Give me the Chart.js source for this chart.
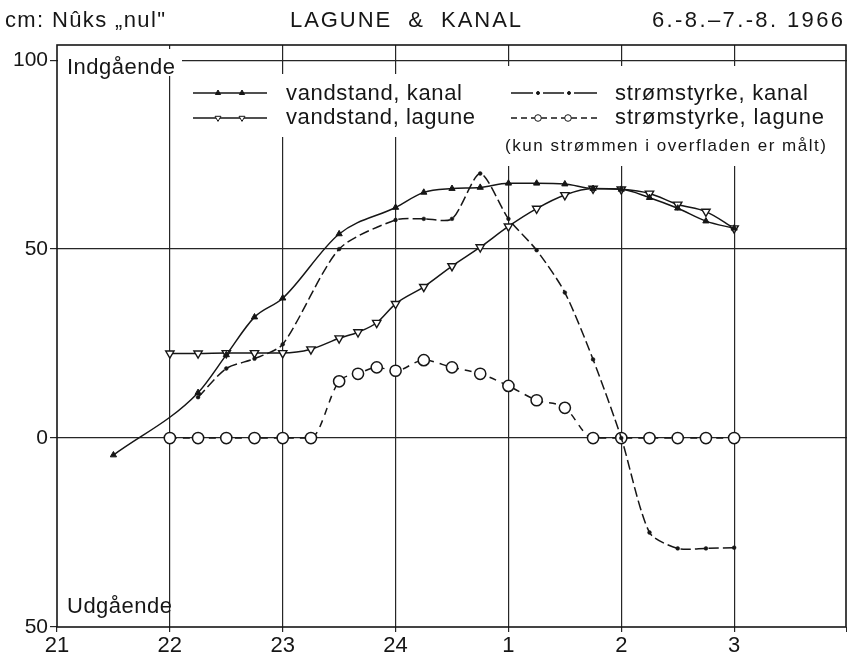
<!DOCTYPE html>
<html>
<head>
<meta charset="utf-8">
<script src="https://cdn.jsdelivr.net/npm/chart.js@4.4.0/dist/chart.umd.min.js"></script>
<style>
html,body{margin:0;padding:0;background:#fff;}
#wrap{position:relative;width:847px;height:652px;}
canvas{display:block;}
</style>
</head>
<body>
<div id="wrap"><canvas id="c" width="847" height="652"></canvas></div>
<script>
// ---- tick labels ----
const xTickValues = [21, 22, 23, 24, 25, 26, 27, 28];
const xTickLabels = ['21', '22', '23', '24', '1', '2', '3', ''];
const yTickValues = [-50, 0, 50, 100];
const yTickLabels = ['50', '0', '50', '100'];

// ---- series (x = hour of day, 25 = 01, 26 = 02, 27 = 03) ----
const kanalLevelTime = [21.5, 22.25, 22.5, 22.75, 23, 23.5, 24, 24.25, 24.5, 24.75, 25, 25.25, 25.5, 25.75, 26, 26.25, 26.5, 26.75, 27];
const kanalLevel     = [-4.5, 12, 22, 32, 37, 54, 61, 65, 66, 66.3, 67.4, 67.4, 67.2, 66, 65.8, 63.6, 60.8, 57.4, 55.5];

const laguneLevelTime = [22, 22.25, 22.5, 22.75, 23, 23.25, 23.5, 23.667, 23.833, 24, 24.25, 24.5, 24.75, 25, 25.25, 25.5, 25.75, 26, 26.25, 26.5, 26.75, 27];
const laguneLevel     = [22.4, 22.4, 22.5, 22.5, 22.5, 23.5, 26.4, 28, 30.5, 35.5, 40, 45.5, 50.5, 56, 60.7, 64.3, 66, 65.8, 64.7, 61.8, 59.9, 55.5];

const kanalCurrentTime = [22.25, 22.5, 22.75, 23, 23.5, 24, 24.25, 24.5, 24.75, 25, 25.25, 25.5, 25.75, 26, 26.25, 26.5, 26.75, 27];
const kanalCurrent     = [10.8, 18.4, 21, 24.8, 50, 57.7, 58, 58, 70, 58, 49.7, 38.5, 20.8, 0, -25, -29.2, -29.2, -29];

const laguneCurrentTime = [22, 22.25, 22.5, 22.75, 23, 23.25, 23.5, 23.667, 23.833, 24, 24.25, 24.5, 24.75, 25, 25.25, 25.5, 25.75, 26, 26.25, 26.5, 26.75, 27];
const laguneCurrent     = [0, 0, 0, 0, 0, 0, 15, 17, 18.7, 17.8, 20.6, 18.7, 17, 13.8, 10, 8, 0, 0, 0, 0, 0, 0];

// ---- texts ----
const headerLeft = 'cm: Nûks „nul"';
const headerMid = 'LAGUNE  &  KANAL';
const headerRight = '6.-8.–7.-8. 1966';
const inLabel = 'Indgående';
const outLabel = 'Udgående';
const seriesNames = ['vandstand, kanal', 'vandstand, lagune', 'strømstyrke, kanal', 'strømstyrke, lagune'];
const noteText = '(kun strømmen i overfladen er målt)';

const INK = '#161616';
const GRID = '#262626';
const FONT = "'Liberation Sans', Arial, sans-serif";
const NARROW = "'Liberation Sans Narrow', 'Liberation Sans', Arial, sans-serif";

function pts(xs, ys) { return xs.map((x, i) => ({ x: x, y: ys[i] })); }

const datasets = [
  {
    label: seriesNames[0], data: pts(kanalLevelTime, kanalLevel),
    borderColor: INK, borderWidth: 1.5, cubicInterpolationMode: 'monotone',
    pointStyle: 'triangle', pointRadius: 3.6, pointBackgroundColor: INK, pointBorderColor: INK, pointBorderWidth: 1,
    order: 2, legendMarks: [218, 242], legendRow: 0, legendCol: 0, legendRadius: 3, legendDash: 'solid'
  },
  {
    label: seriesNames[1], data: pts(laguneLevelTime, laguneLevel),
    borderColor: INK, borderWidth: 1.5, cubicInterpolationMode: 'monotone',
    pointStyle: 'triangle', pointRotation: 180, pointRadius: 4.8, pointBackgroundColor: '#ffffff', pointBorderColor: INK, pointBorderWidth: 1.4,
    order: 3, legendMarks: [218, 242], legendRow: 1, legendCol: 0, legendRadius: 3.4, legendDash: 'solid'
  },
  {
    label: seriesNames[2], data: pts(kanalCurrentTime, kanalCurrent),
    borderColor: INK, borderWidth: 1.5, borderDash: [10, 4], tension: 0.25,
    pointStyle: 'circle', pointRadius: 1.9, pointBackgroundColor: INK, pointBorderColor: INK, pointBorderWidth: 0.5,
    order: 0, legendMarks: [538, 569], legendRow: 0, legendCol: 1, legendRadius: 1.5, legendDash: 'gapped'
  },
  {
    label: seriesNames[3], data: pts(laguneCurrentTime, laguneCurrent),
    borderColor: INK, borderWidth: 1.5, borderDash: [7, 6], cubicInterpolationMode: 'monotone',
    pointStyle: 'circle', pointRadius: 5.6, pointBackgroundColor: '#ffffff', pointBorderColor: INK, pointBorderWidth: 1.5,
    order: 1, legendMarks: [538, 568], legendRow: 1, legendCol: 1, legendRadius: 3.3, legendDash: 'dashed'
  }
];

function fitText(ctx, txt, x0, x1, y, font) {
  ctx.font = font;
  ctx.letterSpacing = '0px';
  const w = ctx.measureText(txt).width;
  const ls = (x1 - x0 - w) / Math.max(1, txt.length - 1);
  ctx.letterSpacing = ls.toFixed(2) + 'px';
  ctx.textAlign = 'left';
  ctx.textBaseline = 'alphabetic';
  ctx.fillText(txt, x0, y);
  ctx.letterSpacing = '0px';
}

const deco = {
  id: 'deco',
  beforeDatasetsDraw(chart) {
    const ctx = chart.ctx, a = chart.chartArea;
    ctx.save();
    // white boxes behind the labels and the legend (they interrupt the grid)
    ctx.fillStyle = '#ffffff';
    ctx.fillRect(a.left + 1, a.top + 4, 124, 27);     // Indgående
    ctx.fillRect(182, 74, 296, 63);                    // legend left column
    ctx.fillRect(478, 66, a.right - 480, 100);         // legend right column + note
    // frame
    ctx.strokeStyle = INK;
    ctx.lineWidth = 1.6;
    ctx.strokeRect(a.left, a.top, a.right - a.left - 1, a.bottom - a.top);
    ctx.restore();
  },
  afterDraw(chart) {
    const ctx = chart.ctx;
    ctx.save();
    ctx.fillStyle = INK;
    // header
    fitText(ctx, headerLeft, 5, 165, 27, '22px ' + FONT);
    fitText(ctx, headerMid, 290, 521, 27, '22px ' + FONT);
    fitText(ctx, headerRight, 652, 843, 27, '22px ' + FONT);
    // in / out labels
    fitText(ctx, inLabel, 67, 175, 74, '22px ' + FONT);
    fitText(ctx, outLabel, 67, 172, 613, '22px ' + FONT);
    // legend
    const rowY = [93, 118];
    const textY = [100, 124];
    const colSample = [[193, 267], [511, 597]];
    const colText = [[286, [462, 475]], [615, [808, 824]]];
    chart.data.datasets.forEach(ds => {
      const y = rowY[ds.legendRow];
      const [sx0, sx1] = colSample[ds.legendCol];
      ctx.save();
      ctx.strokeStyle = INK;
      ctx.lineWidth = 1.3;
      if (ds.legendDash === 'gapped') {
        const stops = [sx0];
        ds.legendMarks.forEach(m => { stops.push(m - 5, m + 5); });
        stops.push(sx1);
        ctx.beginPath();
        for (let i = 0; i < stops.length; i += 2) { ctx.moveTo(stops[i], y); ctx.lineTo(stops[i + 1], y); }
        ctx.stroke();
      } else {
        ctx.setLineDash(ds.legendDash === 'dashed' ? [6, 4] : []);
        ctx.beginPath();
        ctx.moveTo(sx0, y);
        ctx.lineTo(sx1, y);
        ctx.stroke();
        ctx.setLineDash([]);
      }
      ds.legendMarks.forEach(mx => {
        ctx.fillStyle = ds.pointBackgroundColor;
        ctx.strokeStyle = INK;
        ctx.lineWidth = 1;
        Chart.helpers.drawPoint(ctx, {
          pointStyle: ds.pointStyle, radius: ds.legendRadius,
          rotation: ds.pointRotation || 0, borderWidth: 1
        }, mx, y);
      });
      ctx.restore();
      ctx.fillStyle = INK;
      const [tx, ends] = colText[ds.legendCol];
      fitText(ctx, ds.label, tx, ends[ds.legendRow], textY[ds.legendRow], '22px ' + FONT);
    });
    fitText(ctx, noteText, 505, 826, 151, '17px ' + FONT);
    ctx.restore();
  }
};

new Chart(document.getElementById('c'), {
  type: 'line',
  data: { datasets: datasets },
  options: {
    responsive: false,
    devicePixelRatio: 1,
    animation: false,
    layout: { autoPadding: false, padding: { top: 45, right: 0, left: 0, bottom: 0 } },
    plugins: { legend: { display: false }, tooltip: { enabled: false }, title: { display: false } },
    scales: {
      x: {
        type: 'linear', min: 21, max: 28,
        afterBuildTicks: s => { s.ticks = xTickValues.map(v => ({ value: v })); },
        afterFit: s => { s.height = 25; s.paddingRight = 0; },
        ticks: {
          autoSkip: false, maxRotation: 0, padding: 1, color: INK,
          font: { family: NARROW, size: 22 },
          callback: v => { const i = xTickValues.indexOf(v); return i >= 0 ? xTickLabels[i] : ''; }
        },
        grid: {
          color: c => (c.tick && (c.tick.value === 21 || c.tick.value === 28)) ? 'rgba(0,0,0,0)' : GRID,
          tickColor: GRID, lineWidth: 1.2, tickLength: 5, drawTicks: true
        },
        border: { display: false }
      },
      y: {
        type: 'linear', min: -50, max: 104,
        afterBuildTicks: s => { s.ticks = yTickValues.map(v => ({ value: v })); },
        afterFit: s => { s.width = 57; },
        ticks: {
          padding: 2, color: INK,
          font: { family: NARROW, size: 21 },
          callback: v => { const i = yTickValues.indexOf(v); return i >= 0 ? yTickLabels[i] : ''; }
        },
        grid: {
          color: c => (c.tick && c.tick.value === -50) ? 'rgba(0,0,0,0)' : GRID,
          tickColor: GRID, lineWidth: 1.2, tickLength: 7, drawTicks: true
        },
        border: { display: false }
      }
    }
  },
  plugins: [deco]
});
</script>
</body>
</html>
